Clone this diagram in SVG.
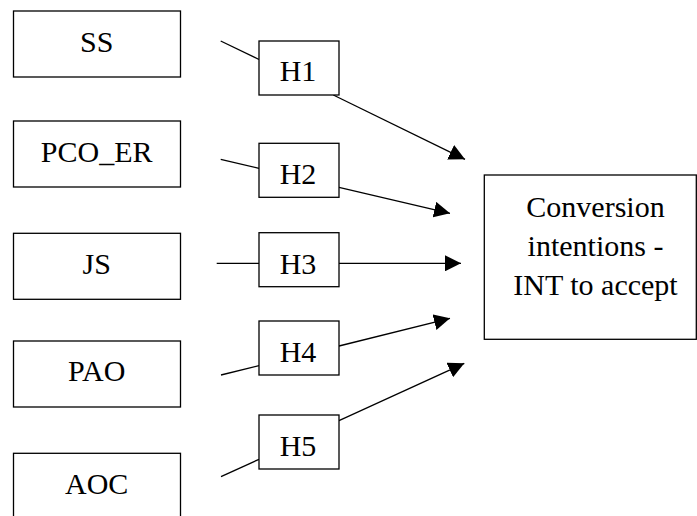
<svg xmlns="http://www.w3.org/2000/svg" width="697" height="516" viewBox="0 0 697 516">
<style>
.box{fill:#fff;stroke:#000;stroke-width:1.3}
.lbl{font-family:"Liberation Serif","Times New Roman",serif;font-size:30px;fill:#000;text-anchor:middle}
.c{stroke:#000;stroke-width:1.3;fill:none}
</style>
<defs>
<marker id="ah" markerUnits="userSpaceOnUse" markerWidth="17" markerHeight="16" refX="16" refY="8" orient="auto">
<path d="M0,0 L16,8 L0,16 z" fill="#000"/>
</marker>
</defs>
<rect width="697" height="516" fill="#fff"/>
<g id="connectors">
<line class="c" x1="220.7" y1="41" x2="259" y2="59.5"/>
<line class="c" x1="220.7" y1="159.3" x2="259" y2="168.3"/>
<line class="c" x1="216.7" y1="263.3" x2="259" y2="263.3"/>
<line class="c" x1="221" y1="375" x2="259" y2="365.7"/>
<line class="c" x1="221" y1="476.7" x2="259" y2="459.3"/>
<line class="c" x1="333.3" y1="95" x2="465" y2="159.3" marker-end="url(#ah)"/>
<line class="c" x1="339" y1="187.3" x2="450" y2="213.3" marker-end="url(#ah)"/>
<line class="c" x1="339" y1="263.3" x2="461" y2="263.3" marker-end="url(#ah)"/>
<line class="c" x1="339" y1="346" x2="450" y2="318.3" marker-end="url(#ah)"/>
<line class="c" x1="339" y1="420.7" x2="464.3" y2="363.3" marker-end="url(#ah)"/>
</g>
<g id="SS"><rect class="box" x="13.5" y="11" width="167" height="66"/><text class="lbl" x="96.7" y="51.7">SS</text></g>
<g id="PCO_ER"><rect class="box" x="13.5" y="121" width="167" height="66"/><text class="lbl" x="96.7" y="162.3">PCO_ER</text></g>
<g id="JS"><rect class="box" x="13.5" y="233.3" width="167" height="66"/><text class="lbl" x="96.7" y="274.3">JS</text></g>
<g id="PAO"><rect class="box" x="13.5" y="341" width="167" height="66"/><text class="lbl" x="96.7" y="381">PAO</text></g>
<g id="AOC"><rect class="box" x="13.5" y="453.3" width="167" height="66"/><text class="lbl" x="96.7" y="494">AOC</text></g>
<g id="H1"><rect class="box" x="259" y="41" width="80" height="54"/><text class="lbl" x="298" y="81">H1</text></g>
<g id="H2"><rect class="box" x="259" y="143.3" width="80" height="54"/><text class="lbl" x="298" y="184">H2</text></g>
<g id="H3"><rect class="box" x="259" y="232.7" width="80" height="54"/><text class="lbl" x="298" y="274.3">H3</text></g>
<g id="H4"><rect class="box" x="259" y="321" width="80" height="54"/><text class="lbl" x="298" y="361.7">H4</text></g>
<g id="H5"><rect class="box" x="259" y="415" width="80" height="54"/><text class="lbl" x="298" y="456">H5</text></g>
<g id="INT"><rect class="box" x="484.3" y="175" width="212" height="164.3"/>
<text class="lbl" x="595.5" y="216.7">Conversion</text>
<text class="lbl" x="595.5" y="256">intentions -</text>
<text class="lbl" x="595.5" y="295">INT to accept</text></g>
</svg>
